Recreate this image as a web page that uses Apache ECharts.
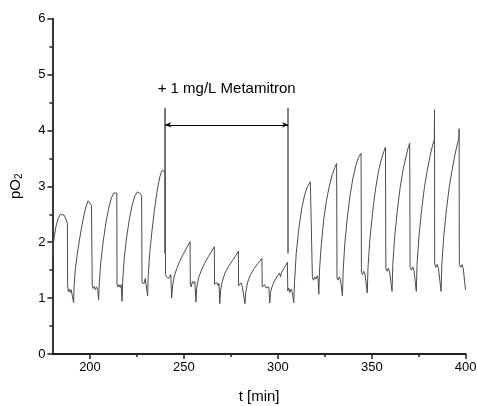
<!DOCTYPE html>
<html>
<head>
<meta charset="utf-8">
<script src="https://cdn.jsdelivr.net/npm/echarts@6/dist/echarts.min.js"></script>
<style>html,body{margin:0;padding:0;background:#fff}#c{width:477px;height:406px}</style>
</head>
<body>
<div id="c"></div>
<script>
// time [min]
var tValues = [
180,180.4,181,182,183,184.2,185.2,186.3,187.3,188.0,
188.1,188.5,189,189.5,190,190.5,190.9,191.3,
191.6,192.2,193.1,194.3,195.6,196.9,198.1,199,200,200.8,201.1,
201.2,201.7,202.3,202.9,203.5,204.1,204.6,
205,205.8,207,208.4,209.9,211.4,212.6,213.5,214.3,
214.4,214.9,215.5,216.1,216.6,217.05,
217.4,218.2,219.4,220.9,222.4,223.9,225.2,226.4,227.5,
227.7,228.2,228.8,229.4,230,230.35,230.7,
231,231.8,233,234.4,235.9,237.2,238.3,239.3,240.1,
240.2,240.7,241.2,241.8,242.4,243,243.5,
243.9,244.8,246.2,247.8,249.6,251.5,253.3,
253.4,253.9,254.5,255.1,255.8,256.4,
256.8,257.8,259.3,261,263,264.8,266.2,
266.3,266.9,267.5,268.2,268.7,269.1,
269.5,270.4,271.9,273.8,275.8,277.6,279,
279.1,279.7,280.4,281.1,281.8,282.5,
282.9,283.9,285.4,287.4,289.4,291.5,
291.7,292.3,293,293.7,294.4,295.2,295.7,
296.1,296.9,298.4,299.9,300.9,301.4,302,303.6,305.1,
305.3,305.8,306.4,307,307.6,308.1,308.5,
308.9,309.8,311.2,312.7,314.3,315.8,317.3,318.2,
318.4,319,319.7,320.3,321,321.4,321.8,
322.2,323,324.4,325.9,327.4,328.9,330.3,331.3,
331.5,332.1,332.7,333.3,333.9,334.4,
334.8,335.6,337,338.5,340,341.5,343,344.3,
344.5,345.1,345.7,346.4,347.1,347.6,
348,349,350.5,352,353.5,355,356.4,357.3,
357.5,358.2,358.8,359.5,360.2,360.8,
361.2,362.2,363.7,365.2,366.7,368.2,369.4,370.2,
370.4,371.1,371.8,372.5,373.2,373.7,
374.1,375.1,376.6,378.1,379.6,381.1,382.4,383.3,383.4,
383.5,384.1,384.8,385.5,386.2,386.9,
387.3,388.3,389.8,391.3,392.8,394.3,395.6,396.4,396.5,
396.6,397.3,398,398.7,399.3,399.9
];
// pO2
var pO2Values = [
1.75,1.92,2.1,2.3,2.42,2.5,2.52,2.48,2.4,2.34,
1.22,1.12,1.16,1.1,1.15,1.12,1.18,0.92,
1.25,1.52,1.75,2.02,2.28,2.5,2.66,2.74,2.72,2.66,2.63,
1.22,1.17,1.21,1.15,1.2,1.16,0.97,
1.3,1.65,2.0,2.33,2.6,2.79,2.88,2.9,2.88,
1.25,1.2,1.24,1.19,1.24,0.94,
1.3,1.7,2.06,2.4,2.66,2.83,2.9,2.88,2.83,
1.28,1.3,1.26,1.35,1.33,1.38,1.04,
1.4,1.8,2.2,2.6,2.95,3.17,3.28,3.3,3.27,
1.42,1.38,1.41,1.35,1.38,1.42,1.0,
1.2,1.38,1.53,1.66,1.78,1.9,2.01,
1.25,1.2,1.3,1.26,1.3,0.93,
1.18,1.36,1.5,1.62,1.74,1.84,1.92,
1.25,1.22,1.28,1.22,1.26,0.9,
1.13,1.3,1.45,1.57,1.67,1.76,1.84,
1.22,1.2,1.27,1.2,1.23,0.9,
1.1,1.28,1.42,1.53,1.62,1.71,
1.2,1.18,1.24,1.18,1.21,1.2,0.91,
1.1,1.2,1.32,1.4,1.45,1.38,1.46,1.55,1.64,
1.13,1.18,1.1,1.16,1.12,1.15,0.92,
1.3,1.8,2.25,2.6,2.85,3.0,3.08,3.11,
1.36,1.32,1.38,1.34,1.4,1.36,1.07,
1.5,1.9,2.4,2.75,3.0,3.2,3.33,3.41,
1.36,1.32,1.38,1.34,1.37,1.04,
1.5,1.95,2.45,2.85,3.15,3.37,3.52,3.59,
1.46,1.42,1.48,1.43,1.46,1.09,
1.55,2.05,2.55,2.95,3.25,3.47,3.62,3.7,
1.52,1.48,1.54,1.47,1.5,1.12,
1.6,2.1,2.6,3.0,3.3,3.53,3.69,3.77,
1.55,1.5,1.56,1.49,1.52,1.12,
1.6,2.1,2.6,3.0,3.3,3.55,3.74,3.83,4.37,
1.62,1.55,1.6,1.53,1.56,1.12,
1.6,2.1,2.6,3.0,3.3,3.57,3.76,3.86,4.03,
1.6,1.55,1.6,1.53,1.56,1.15
];
var xMajorTicks = [200, 250, 300, 350, 400];
var xMinorTicks = [225, 275, 325, 375];
var annotationText = '+ 1 mg/L Metamitron';
var doseStart = 240, doseEnd = 305.5;
var markerLow = 1.8, markerHigh = 4.4, arrowLevel = 4.1, textLevel = 4.74;

var seriesData = tValues.map(function (t, i) { return [t, pO2Values[i]]; });

var FONT = 'Liberation Sans, Arial, sans-serif';
var chart = echarts.init(document.getElementById('c'), null, {renderer: 'canvas'});
var axisColor = '#222';
chart.setOption({
  animation: false,
  grid: {left: 52.4, right: 11.3, top: 18.6, bottom: 52, containLabel: false, outerBoundsMode: 'none'},
  xAxis: [{
    type: 'value', min: 180, max: 400, position: 'bottom',
    name: 't [min]', nameLocation: 'middle', nameGap: 35,
    nameTextStyle: {fontFamily: FONT, fontSize: 15, color: '#000'},
    axisLine: {show: true, lineStyle: {color: axisColor, width: 1.8}},
    axisTick: {show: true, inside: false, length: 5, customValues: xMajorTicks, lineStyle: {color: axisColor, width: 1.5}},
    axisLabel: {show: true, customValues: xMajorTicks, margin: 7, fontFamily: FONT, fontSize: 13, color: '#000'},
    splitLine: {show: false}
  }, {
    type: 'value', min: 180, max: 400, position: 'bottom',
    axisLine: {show: false},
    axisTick: {show: true, inside: false, length: 3, customValues: xMinorTicks, lineStyle: {color: axisColor, width: 1.5}},
    axisLabel: {show: false},
    splitLine: {show: false}
  }],
  yAxis: {
    type: 'value', min: 0, max: 6, interval: 1,
    name: '{a|pO}{b|2}', nameLocation: 'middle', nameGap: 28, nameRotate: 90,
    nameTextStyle: {fontFamily: FONT, color: '#000',
      rich: {a: {fontFamily: FONT, fontSize: 15, color: '#000'}, b: {fontFamily: FONT, fontSize: 10, color: '#000', padding: [8, 0, 0, 0]}}},
    axisLine: {show: true, lineStyle: {color: axisColor, width: 1.8}},
    axisTick: {show: true, inside: false, length: 5, lineStyle: {color: axisColor, width: 1.5}},
    minorTick: {show: true, splitNumber: 2, length: 3, lineStyle: {color: axisColor, width: 1.5}},
    axisLabel: {margin: 7, fontFamily: FONT, fontSize: 13, color: '#000'},
    splitLine: {show: false}
  },
  series: [{
    type: 'line', xAxisIndex: 0, data: seriesData, showSymbol: false, symbol: 'none',
    lineStyle: {color: '#4a4a55', width: 1}, z: 3
  }, {
    type: 'line', xAxisIndex: 0, data: [], silent: true,
    markLine: {
      silent: true, animation: false,
      label: {show: false},
      data: [
        [{coord: [doseStart, markerLow], symbol: 'none', lineStyle: {color: '#555', width: 1.6, type: 'solid'}},
         {coord: [doseStart, markerHigh], symbol: 'none'}],
        [{coord: [doseEnd, markerLow], symbol: 'none', lineStyle: {color: '#666', width: 1.6, type: 'solid'}},
         {coord: [doseEnd, markerHigh], symbol: 'none'}],
        [{coord: [doseStart, arrowLevel], symbol: 'arrow', symbolSize: [4, 6], lineStyle: {color: '#000', width: 1, type: 'solid'}},
         {coord: [doseEnd, arrowLevel], symbol: 'arrow', symbolSize: [4, 6]}]
      ]
    },
    markPoint: {
      silent: true, animation: false,
      data: [{coord: [(doseStart + doseEnd) / 2, textLevel], symbol: 'rect', symbolSize: 1,
        itemStyle: {color: 'rgba(0,0,0,0)'},
        label: {show: true, position: 'inside', formatter: annotationText, fontFamily: FONT, fontSize: 15, color: '#000'}}]
    }
  }]
});
</script>
</body>
</html>
